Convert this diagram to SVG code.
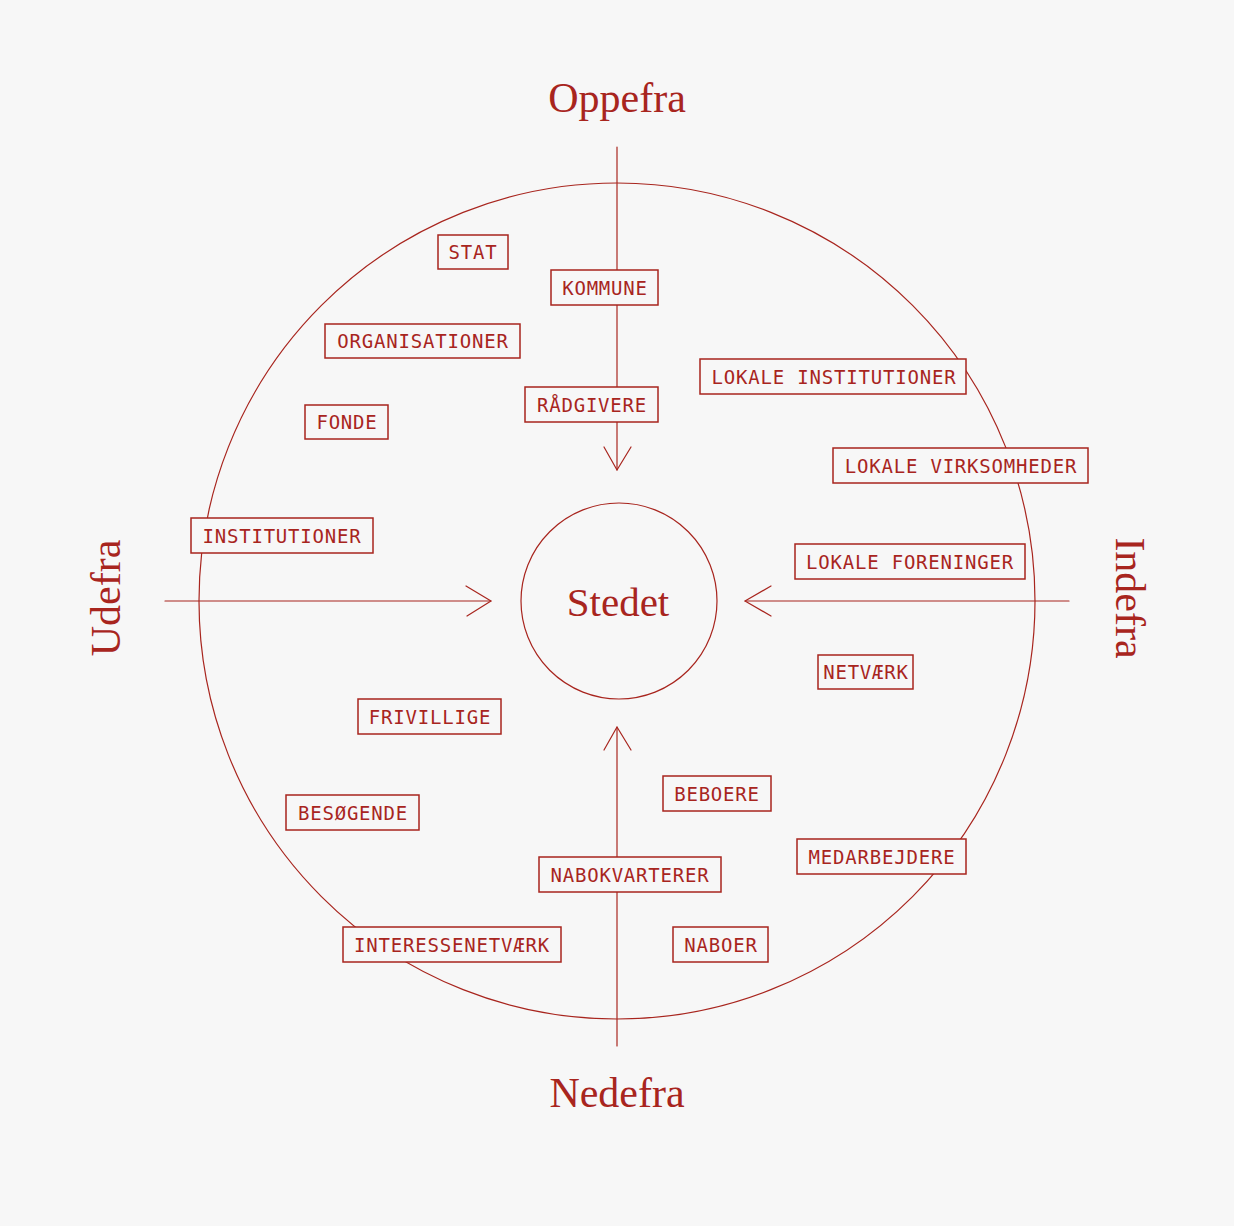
<svg xmlns="http://www.w3.org/2000/svg" width="1234" height="1226" viewBox="0 0 1234 1226">
<style>
.ln{fill:none;stroke:#a8251e;stroke-width:1.2;stroke-linecap:round;stroke-linejoin:round}
.bx{fill:#f7f7f7;stroke:#a8251e;stroke-width:1.5}
.lb{font-family:"DejaVu Sans Mono","Liberation Mono",monospace;font-size:19px;letter-spacing:0.8px;fill:#a8251e;text-anchor:middle}
.ttl{font-family:"Liberation Serif","DejaVu Serif",serif;font-size:42px;fill:#a8251e;text-anchor:middle}
</style>
<rect width="1234" height="1226" fill="#f7f7f7"/>
<g id="outer-circle"><circle class="ln" cx="617" cy="601" r="418"/></g>
<g id="connectors">
<line class="ln" x1="617" y1="147" x2="617" y2="470"/>
<polyline class="ln" points="604,447 617,470 631,447"/>
<line class="ln" x1="617" y1="1046" x2="617" y2="727"/>
<polyline class="ln" points="604,750 617,727 631,750"/>
<line class="ln" x1="165" y1="601" x2="491" y2="601"/>
<polyline class="ln" points="466,586 491,601 467,616"/>
<line class="ln" x1="1069" y1="601" x2="745" y2="601"/>
<polyline class="ln" points="771,586 745,601 771,616"/>
</g>
<g id="stedet"><circle class="ln" cx="619" cy="601" r="98" fill="#f7f7f7"/><text class="ttl" style="font-size:41px" x="618" y="616">Stedet</text></g>
<g id="oppefra"><text class="ttl" x="617" y="112">Oppefra</text></g>
<g id="nedefra"><text class="ttl" x="617" y="1107">Nedefra</text></g>
<g id="udefra"><text class="ttl" transform="translate(120,598) rotate(-90)" x="0" y="0">Udefra</text></g>
<g id="indefra"><text class="ttl" transform="translate(1116,598) rotate(90)" x="0" y="0">Indefra</text></g>
<g id="stat"><rect class="bx" x="438" y="235" width="70" height="34"/><text class="lb" x="473" y="259">STAT</text></g>
<g id="kommune"><rect class="bx" x="551" y="270" width="107" height="35"/><text class="lb" x="605" y="295">KOMMUNE</text></g>
<g id="organisationer"><rect class="bx" x="325" y="324" width="195" height="34"/><text class="lb" x="423" y="348">ORGANISATIONER</text></g>
<g id="radgivere"><rect class="bx" x="525" y="387" width="133" height="35"/><text class="lb" x="592" y="412">RÅDGIVERE</text></g>
<g id="lokale-institutioner"><rect class="bx" x="700" y="359" width="266" height="35"/><text class="lb" x="834" y="384">LOKALE INSTITUTIONER</text></g>
<g id="fonde"><rect class="bx" x="305" y="405" width="83" height="34"/><text class="lb" x="347" y="429">FONDE</text></g>
<g id="lokale-virksomheder"><rect class="bx" x="833" y="448" width="255" height="35"/><text class="lb" x="961" y="473">LOKALE VIRKSOMHEDER</text></g>
<g id="institutioner"><rect class="bx" x="191" y="518" width="182" height="35"/><text class="lb" x="282" y="543">INSTITUTIONER</text></g>
<g id="lokale-foreninger"><rect class="bx" x="795" y="544" width="230" height="35"/><text class="lb" x="910" y="569">LOKALE FORENINGER</text></g>
<g id="netvaerk"><rect class="bx" x="818" y="655" width="95" height="34"/><text class="lb" x="866" y="679">NETVÆRK</text></g>
<g id="frivillige"><rect class="bx" x="358" y="699" width="143" height="35"/><text class="lb" x="430" y="724">FRIVILLIGE</text></g>
<g id="beboere"><rect class="bx" x="663" y="776" width="108" height="35"/><text class="lb" x="717" y="801">BEBOERE</text></g>
<g id="besogende"><rect class="bx" x="286" y="795" width="133" height="35"/><text class="lb" x="353" y="820">BESØGENDE</text></g>
<g id="medarbejdere"><rect class="bx" x="797" y="839" width="169" height="35"/><text class="lb" x="882" y="864">MEDARBEJDERE</text></g>
<g id="nabokvarterer"><rect class="bx" x="539" y="857" width="182" height="35"/><text class="lb" x="630" y="882">NABOKVARTERER</text></g>
<g id="interessenetvaerk"><rect class="bx" x="343" y="927" width="218" height="35"/><text class="lb" x="452" y="952">INTERESSENETVÆRK</text></g>
<g id="naboer"><rect class="bx" x="673" y="927" width="95" height="35"/><text class="lb" x="721" y="952">NABOER</text></g>
</svg>
